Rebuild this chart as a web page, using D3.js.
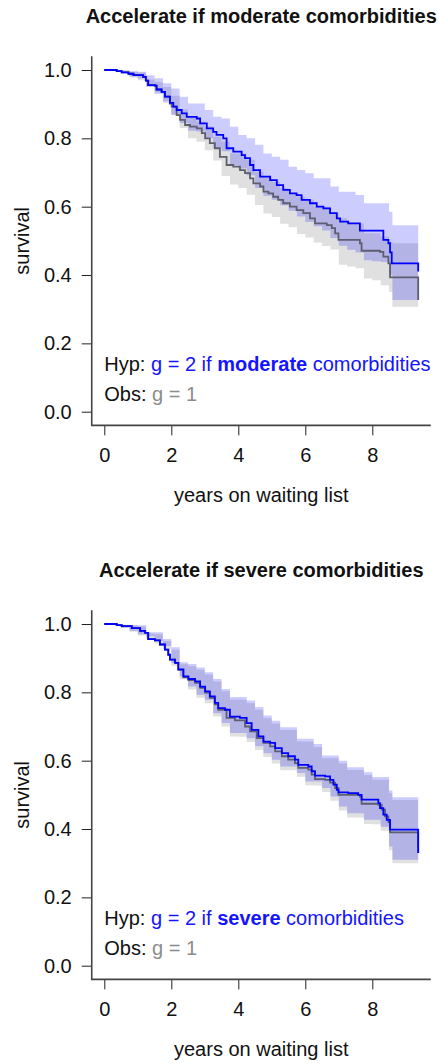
<!DOCTYPE html>
<html>
<head>
<meta charset="utf-8">
<script src="https://cdn.jsdelivr.net/npm/d3@7"></script>
<style>
  body { margin: 0; background: #fff; }
  svg text { font-family: "Liberation Sans", Arial, Helvetica, sans-serif; fill: #111; }
  .leg { white-space: pre; }
</style>
</head>
<body>
<div id="chart"></div>
<script>
// survival curves, [years, survival]
var topHyp = [[0,1],[0.37,0.997],[0.52,0.993],[0.72,0.989],[0.87,0.985],[1.16,0.98],[1.24,0.969],[1.31,0.956],[1.51,0.954],[1.56,0.943],[1.71,0.936],[1.81,0.922],[1.96,0.904],[2.06,0.893],[2.16,0.883],[2.31,0.873],[2.46,0.863],[2.76,0.858],[2.86,0.844],[3.06,0.829],[3.25,0.819],[3.35,0.81],[3.55,0.8],[3.65,0.771],[3.85,0.761],[4.1,0.751],[4.2,0.742],[4.35,0.722],[4.45,0.707],[4.65,0.688],[4.95,0.678],[5.15,0.663],[5.34,0.649],[5.54,0.639],[5.74,0.634],[5.89,0.62],[6.14,0.61],[6.34,0.6],[6.54,0.595],[6.74,0.581],[6.94,0.566],[7.04,0.556],[7.28,0.551],[7.63,0.53],[8.33,0.503],[8.48,0.493],[8.53,0.466],[8.58,0.434],[9.37,0.434],[9.37,0.41]];
var topObs = [[0,1],[0.37,0.997],[0.52,0.993],[0.72,0.989],[0.87,0.985],[1.16,0.98],[1.24,0.969],[1.31,0.956],[1.51,0.954],[1.56,0.943],[1.71,0.936],[1.81,0.922],[1.96,0.902],[2.01,0.893],[2.16,0.868],[2.26,0.854],[2.41,0.839],[2.56,0.834],[2.76,0.829],[2.91,0.815],[3.01,0.8],[3.15,0.786],[3.3,0.771],[3.45,0.746],[3.65,0.722],[3.85,0.717],[4.05,0.707],[4.2,0.698],[4.35,0.683],[4.45,0.668],[4.65,0.659],[4.75,0.644],[4.9,0.639],[5.04,0.629],[5.19,0.62],[5.34,0.61],[5.54,0.6],[5.74,0.59],[5.94,0.581],[6.14,0.566],[6.29,0.551],[6.64,0.546],[6.79,0.537],[6.89,0.522],[6.99,0.503],[7.63,0.493],[7.68,0.471],[8.23,0.468],[8.33,0.454],[8.48,0.434],[8.53,0.393],[9.37,0.393],[9.37,0.327]];
var botHyp = [[0,1],[0.37,0.997],[0.52,0.994],[0.82,0.988],[1.07,0.98],[1.22,0.974],[1.31,0.956],[1.51,0.952],[1.66,0.94],[1.81,0.925],[1.91,0.91],[1.96,0.896],[2.11,0.886],[2.21,0.867],[2.36,0.847],[2.51,0.839],[2.71,0.832],[2.86,0.817],[3.01,0.803],[3.15,0.788],[3.3,0.769],[3.4,0.754],[3.6,0.749],[3.75,0.729],[4.05,0.725],[4.25,0.71],[4.4,0.69],[4.6,0.671],[4.75,0.656],[4.95,0.652],[5.1,0.637],[5.3,0.622],[5.49,0.613],[5.69,0.603],[5.79,0.588],[6.09,0.583],[6.19,0.569],[6.29,0.556],[6.59,0.554],[6.74,0.544],[6.84,0.53],[6.94,0.515],[6.99,0.507],[7.28,0.505],[7.58,0.5],[7.68,0.486],[8.18,0.476],[8.23,0.461],[8.33,0.442],[8.43,0.427],[8.53,0.398],[9.37,0.398],[9.37,0.33]];
var botObs = [[0,1],[0.37,0.997],[0.52,0.994],[0.82,0.988],[1.07,0.98],[1.22,0.974],[1.31,0.956],[1.51,0.952],[1.66,0.94],[1.81,0.925],[1.91,0.91],[1.96,0.896],[2.11,0.886],[2.21,0.866],[2.36,0.844],[2.51,0.836],[2.71,0.828],[2.86,0.813],[3.01,0.799],[3.15,0.784],[3.3,0.765],[3.4,0.749],[3.65,0.725],[3.9,0.718],[4.2,0.7],[4.35,0.686],[4.55,0.666],[4.75,0.652],[4.95,0.642],[5.1,0.627],[5.3,0.613],[5.49,0.603],[5.69,0.593],[5.79,0.579],[6.09,0.574],[6.19,0.559],[6.29,0.546],[6.59,0.544],[6.74,0.536],[6.89,0.52],[6.99,0.5],[7.63,0.495],[7.68,0.474],[8.18,0.471],[8.28,0.457],[8.38,0.437],[8.48,0.42],[8.53,0.39],[9.37,0.39],[9.37,0.33]];

// confidence bands, stepped at these times
var bandTimes = [0,0.25,0.5,0.75,1,1.25,1.5,1.75,2,2.25,2.5,2.75,3,3.25,3.5,3.75,4,4.25,4.5,4.75,5,5.25,5.5,5.75,6,6.25,6.5,6.75,7,7.25,7.5,7.75,8,8.25,8.5,8.6];
var endTime = 9.37;
var topHypHi = [1,1,0.998,0.996,0.995,0.985,0.976,0.961,0.946,0.922,0.902,0.902,0.883,0.863,0.858,0.834,0.81,0.8,0.781,0.756,0.746,0.737,0.717,0.707,0.698,0.683,0.683,0.659,0.644,0.644,0.634,0.61,0.61,0.61,0.585,0.546];
var topHypLo = [1,1,0.992,0.981,0.975,0.952,0.93,0.905,0.868,0.845,0.822,0.82,0.8,0.772,0.762,0.722,0.712,0.692,0.655,0.632,0.62,0.604,0.588,0.571,0.555,0.543,0.53,0.508,0.486,0.474,0.466,0.443,0.44,0.438,0.4,0.327];
var topObsHi = [1,1,0.999,0.995,0.993,0.972,0.965,0.95,0.925,0.885,0.86,0.849,0.835,0.805,0.79,0.756,0.756,0.737,0.702,0.688,0.673,0.654,0.639,0.629,0.62,0.6,0.6,0.581,0.566,0.551,0.551,0.522,0.522,0.512,0.498,0.493];
var topObsLo = [1,1,0.99,0.978,0.97,0.95,0.935,0.91,0.87,0.83,0.8,0.79,0.765,0.735,0.69,0.665,0.655,0.635,0.605,0.58,0.57,0.55,0.54,0.52,0.51,0.495,0.485,0.475,0.43,0.425,0.42,0.39,0.385,0.37,0.35,0.307];
var botHypHi = [1,1,0.998,0.997,0.996,0.976,0.976,0.956,0.932,0.888,0.883,0.873,0.859,0.839,0.81,0.786,0.786,0.776,0.757,0.732,0.717,0.698,0.698,0.664,0.664,0.649,0.615,0.615,0.6,0.581,0.581,0.566,0.552,0.552,0.513,0.493];
var botHypLo = [1,1,0.99,0.98,0.97,0.964,0.95,0.935,0.886,0.847,0.817,0.793,0.778,0.739,0.71,0.681,0.681,0.666,0.642,0.622,0.603,0.583,0.583,0.564,0.539,0.539,0.52,0.495,0.466,0.446,0.446,0.427,0.427,0.407,0.349,0.31];
var botObsHi = [1,1,0.997,0.995,0.993,0.972,0.97,0.95,0.925,0.882,0.876,0.866,0.852,0.832,0.803,0.779,0.778,0.768,0.749,0.724,0.709,0.69,0.69,0.656,0.656,0.64,0.607,0.607,0.592,0.573,0.573,0.558,0.544,0.544,0.505,0.485];
var botObsLo = [1,1,0.988,0.977,0.966,0.958,0.943,0.927,0.878,0.838,0.808,0.784,0.768,0.729,0.7,0.671,0.67,0.655,0.631,0.611,0.592,0.572,0.572,0.553,0.528,0.527,0.508,0.483,0.454,0.434,0.434,0.415,0.414,0.395,0.338,0.3];

var xTicks = [0, 2, 4, 6, 8];
var yTicks = [0, 0.2, 0.4, 0.6, 0.8, 1.0];
var titles = ["Accelerate if moderate comorbidities", "Accelerate if severe comorbidities"];
var severity = ["moderate", "severe"];

var panels = [
  {title: titles[0], word: severity[0], hyp: topHyp, obs: topObs, hypHi: topHypHi, hypLo: topHypLo, obsHi: topObsHi, obsLo: topObsLo},
  {title: titles[1], word: severity[1], hyp: botHyp, obs: botObs, hypHi: botHypHi, hypLo: botHypLo, obsHi: botObsHi, obsLo: botObsLo}
];

var width = 438, height = 1064, panelStep = 554;

var svg = d3.select("#chart").append("svg")
    .attr("width", width)
    .attr("height", height);

var x = d3.scaleLinear().domain([0, 8]).range([104.3, 372.3]);
var y = d3.scaleLinear().domain([0, 1]).range([411.7, 70]);

function band(lo, hi) {
  var pts = bandTimes.map(function(t, i) { return [t, lo[i], hi[i]]; });
  pts.push([endTime, lo[lo.length - 1], hi[hi.length - 1]]);
  return pts;
}

var area = d3.area()
    .curve(d3.curveStepAfter)
    .x(function(d) { return x(d[0]); })
    .y0(function(d) { return y(d[1]); })
    .y1(function(d) { return y(d[2]); });

var line = d3.line()
    .curve(d3.curveStepAfter)
    .x(function(d) { return x(d[0]); })
    .y(function(d) { return y(d[1]); });

panels.forEach(function(p, k) {
  var g = svg.append("g").attr("transform", "translate(0," + (k * panelStep) + ")");

  g.append("text")
      .attr("x", (x(-0.375) + x(9.745)) / 2)
      .attr("y", 22.5)
      .attr("text-anchor", "middle")
      .style("font-size", "20px")
      .style("font-weight", "bold")
      .text(p.title);

  // bands then curves
  g.append("path").datum(band(p.obsLo, p.obsHi))
      .attr("d", area).attr("fill", "#e0e0e0");
  g.append("path").datum(band(p.hypLo, p.hypHi))
      .attr("d", area).attr("fill", "rgba(0,0,255,0.2)");
  g.append("path").datum(p.obs)
      .attr("d", line).attr("fill", "none")
      .attr("stroke", "#5e5e6e").attr("stroke-width", 1.8);
  g.append("path").datum(p.hyp)
      .attr("d", line).attr("fill", "none")
      .attr("stroke", "#0000ff").attr("stroke-width", 1.8);

  // axes, R style L box
  var yAxis = d3.axisLeft(y).tickValues(yTicks).tickSize(10).tickPadding(10)
      .tickFormat(d3.format(".1f"));
  var yg = g.append("g").attr("transform", "translate(" + x(-0.375) + ",0)").call(yAxis);
  var xAxis = d3.axisBottom(x).tickValues(xTicks).tickSize(10).tickPadding(12);
  var xg = g.append("g").attr("transform", "translate(0," + y(-0.04) + ")").call(xAxis);
  [yg, xg].forEach(function(a) {
    a.select(".domain").remove();
    a.selectAll("text").style("font-size", "20px").attr("fill", "#111");
    a.selectAll("line").attr("stroke", "#222");
  });

  g.append("path")
      .attr("d", "M" + x(-0.375) + "," + y(1.04) + "V" + y(-0.04) + "H" + x(9.745))
      .attr("fill", "none").attr("stroke", "#444").attr("stroke-width", 1.6);

  g.append("text")
      .attr("transform", "translate(22," + y(0.5) + ") rotate(-90)")
      .attr("text-anchor", "middle")
      .attr("dy", "0.35em")
      .style("font-size", "20px")
      .text("survival");

  g.append("text")
      .attr("x", (x(-0.375) + x(9.745)) / 2)
      .attr("y", 501.5)
      .attr("text-anchor", "middle")
      .style("font-size", "20px")
      .text("years on waiting list");

  // legend
  var hyp = g.append("text").attr("class", "leg").attr("x", x(0)).attr("y", 370.7).style("font-size", "20px");
  hyp.append("tspan").text("Hyp: ");
  hyp.append("tspan").style("fill", "#1414ff").text("g = 2 if ");
  hyp.append("tspan").style("fill", "#1414ff").style("font-weight", "bold").text(p.word);
  hyp.append("tspan").style("fill", "#1414ff").text(" comorbidities");

  var obs = g.append("text").attr("class", "leg").attr("x", x(0)).attr("y", 401).style("font-size", "20px");
  obs.append("tspan").text("Obs: ");
  obs.append("tspan").style("fill", "#8c8c8c").text("g = 1");
});
</script>
</body>
</html>
